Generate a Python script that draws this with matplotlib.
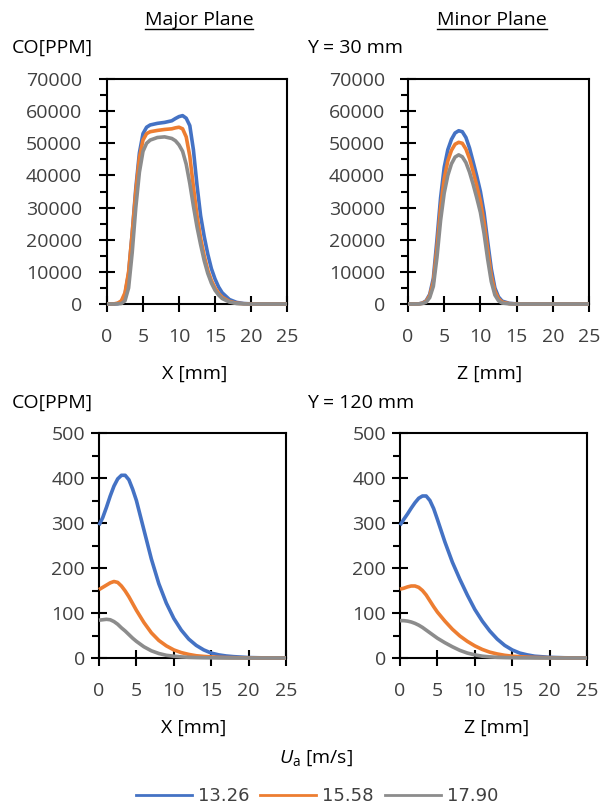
import matplotlib
matplotlib.use("Agg")
import matplotlib.pyplot as plt
from matplotlib.lines import Line2D
from matplotlib.ticker import MultipleLocator

plt.rcParams['font.family'] = ['Open Sans', 'DejaVu Sans']
plt.rcParams['mathtext.fontset'] = 'custom'
plt.rcParams['mathtext.rm'] = 'Open Sans'
plt.rcParams['mathtext.it'] = 'Open Sans:italic'

speeds = ['13.26', '15.58', '17.90']
colors = ['#4472C4', '#ED7D31', '#8C8C8C']

# Y = 30 mm, major plane
x_major30 = [0, 1, 1.5, 2, 2.5, 3, 3.5, 4, 4.5, 5, 5.5, 6, 7, 8, 9, 9.5, 10, 10.5,
             11, 11.5, 12, 12.5, 13, 13.5, 14, 14.5, 15, 15.5, 16, 17, 18, 19, 20, 21, 25]
co_major30_a = [0, 0, 100, 600, 3000, 9500, 22000, 36000, 47000, 53000, 55000, 55700,
                56200, 56500, 57000, 57700, 58300, 58600, 57800, 55500, 48000, 37000,
                27500, 21000, 15500, 11000, 7800, 5300, 3500, 1400, 500, 150, 50, 0, 0]
co_major30_b = [0, 50, 300, 1000, 3500, 10000, 22000, 35000, 45500, 51000, 53000, 53600,
                54000, 54300, 54500, 54800, 55000, 54500, 52000, 46000, 36500, 27500,
                20500, 15000, 10500, 7300, 5000, 3300, 2100, 800, 250, 80, 20, 0, 0]
co_major30_c = [0, 0, 50, 150, 1000, 5000, 16000, 30000, 41000, 47500, 50000, 51000,
                51800, 52000, 51500, 50800, 49500, 47500, 43500, 37500, 30500, 24000,
                18500, 13500, 9500, 6500, 4300, 2800, 1700, 600, 150, 30, 0, 0, 0]

# Y = 30 mm, minor plane
z_minor30 = [0, 1, 1.5, 2, 2.5, 3, 3.5, 4, 4.5, 5, 5.5, 6, 6.5, 7, 7.5, 8, 8.5, 9,
             9.5, 10, 10.5, 11, 11.5, 12, 12.5, 13, 14, 15, 16, 25]
co_minor30_a = [0, 0, 50, 300, 1000, 3000, 8000, 20000, 33000, 42500, 48000, 51200,
                53200, 53900, 53600, 51800, 48500, 44200, 39800, 35000, 28500, 19500,
                11000, 5000, 2200, 900, 200, 40, 0, 0]
co_minor30_b = [0, 0, 40, 250, 800, 2600, 7000, 17500, 30000, 39000, 44500, 47800,
                49700, 50300, 50000, 48200, 45200, 41200, 36800, 32000, 25500, 17000,
                9000, 4000, 1600, 600, 120, 20, 0, 0]
co_minor30_c = [0, 0, 20, 150, 550, 2000, 5500, 14500, 26000, 34500, 40000, 43600,
                45700, 46400, 45800, 44000, 41000, 37200, 33000, 28500, 22000, 14000,
                7000, 2800, 1000, 300, 50, 0, 0, 0]

# Y = 120 mm
x_120 = [0, 0.5, 1, 1.5, 2, 2.5, 3, 3.5, 4, 4.5, 5, 6, 7, 8, 9, 10, 11, 12, 13,
         14, 15, 16, 17, 18, 20, 22, 25]
co_major120_a = [295, 312, 335, 360, 382, 398, 406, 406, 396, 375, 350, 285, 220, 165,
                 122, 88, 62, 42, 28, 18, 11, 7, 4.5, 3, 1, 0.3, 0]
co_major120_b = [152, 157, 162, 167, 170, 168, 160, 149, 136, 121, 106, 79, 56, 39,
                 27, 18, 12, 8, 5, 3.5, 2.5, 1.5, 1, 0.7, 0.3, 0.1, 0]
co_major120_c = [84, 85, 86, 85, 81, 75, 67, 60, 52, 44, 37, 25, 16, 10, 6, 4, 2.5,
                 1.5, 1, 0.6, 0.4, 0.2, 0.1, 0, 0, 0, 0]
co_minor120_a = [295, 308, 320, 333, 345, 355, 360, 360, 350, 332, 308, 258, 213, 175,
                 140, 108, 82, 60, 42, 28, 18, 11, 7, 4, 1.5, 0.5, 0]
co_minor120_b = [153, 155, 158, 160, 160, 157, 150, 140, 127, 114, 102, 82, 64, 49,
                 37, 27, 19, 13, 9, 6, 4, 3, 2, 1.3, 0.6, 0.2, 0]
co_minor120_c = [83, 83, 82, 80, 77, 73, 68, 62, 56, 50, 44, 34, 25, 17, 11, 7, 4,
                 2.5, 1.5, 1, 0.6, 0.3, 0.2, 0.1, 0, 0, 0]

W, H = 611, 808
fig = plt.figure(figsize=(W / 100, H / 100), dpi=100)


def rect(left, top, right, bottom):
    return [left / W, 1 - bottom / H, (right - left) / W, (bottom - top) / H]


def fy(py):
    return 1 - py / H


panels = [
    (rect(107, 79, 287, 304), x_major30, [co_major30_a, co_major30_b, co_major30_c], 70000, 10000, 12, 11),
    (rect(408, 79, 589, 304), z_minor30, [co_minor30_a, co_minor30_b, co_minor30_c], 70000, 10000, 10.5, 11),
    (rect(99, 433, 286, 658), x_120, [co_major120_a, co_major120_b, co_major120_c], 500, 100, 4, 11),
    (rect(400, 433, 587, 658), x_120, [co_minor120_a, co_minor120_b, co_minor120_c], 500, 100, 4, 11),
]

for pos, xs, series, ymax, ystep, ypad, xpad in panels:
    ax = fig.add_axes(pos)
    for ys, c in zip(series, colors):
        ax.plot(xs, ys, color=c, lw=2.6, zorder=3, clip_on=False, solid_capstyle='butt')
    ax.set_xlim(0, 25)
    ax.set_ylim(0, ymax)
    ax.xaxis.set_major_locator(MultipleLocator(5))
    ax.yaxis.set_major_locator(MultipleLocator(ystep))
    ax.yaxis.set_minor_locator(MultipleLocator(ystep / 2))
    for s in ax.spines.values():
        s.set_linewidth(1.5)
    ax.tick_params(axis='y', which='major', direction='inout', length=12, width=1.5,
                   pad=ypad, labelsize=14, labelcolor='#404040')
    ax.tick_params(axis='y', which='minor', direction='out', length=5, width=1.5)
    ax.tick_params(axis='x', which='major', direction='inout', length=12, width=1.5,
                   pad=xpad, labelsize=14, labelcolor='#404040')

txt = dict(fontsize=14, color='black')
t1 = fig.text(199 / W, fy(25), 'Major Plane', ha='center', va='baseline', **txt)
t2 = fig.text(492 / W, fy(25), 'Minor Plane', ha='center', va='baseline', **txt)
fig.text(12 / W, fy(53), 'CO[PPM]', ha='left', va='baseline', **txt)
fig.text(307 / W, fy(53), 'Y = 30 mm', ha='left', va='baseline', **txt)
fig.text(195 / W, fy(379), 'X [mm]', ha='center', va='baseline', **txt)
fig.text(490 / W, fy(379), 'Z [mm]', ha='center', va='baseline', **txt)
fig.text(12 / W, fy(408), 'CO[PPM]', ha='left', va='baseline', **txt)
fig.text(307 / W, fy(408), 'Y = 120 mm', ha='left', va='baseline', **txt)
fig.text(194 / W, fy(733), 'X [mm]', ha='center', va='baseline', **txt)
fig.text(497 / W, fy(733), 'Z [mm]', ha='center', va='baseline', **txt)
fig.text(316 / W, fy(763), r'$\mathit{U}_{\mathrm{a}}$ [m/s]', ha='center', va='baseline', **txt)

handles = [Line2D([], [], color=c, lw=2) for c in colors]
fig.legend(handles, speeds, loc='center', bbox_to_anchor=(317 / W, fy(796)), ncol=3,
           frameon=False, handlelength=3.1, handletextpad=0.35, columnspacing=0.6,
           prop={'family': 'DejaVu Sans', 'size': 13}, labelcolor='#404040')

# underline the plane headings
fig.canvas.draw()
for t in (t1, t2):
    bb = t.get_window_extent()
    y = fy(29)
    fig.add_artist(Line2D([bb.x0 / W, bb.x1 / W], [y, y], transform=fig.transFigure,
                          color='black', lw=1))

fig.savefig('out.png', dpi=100)
